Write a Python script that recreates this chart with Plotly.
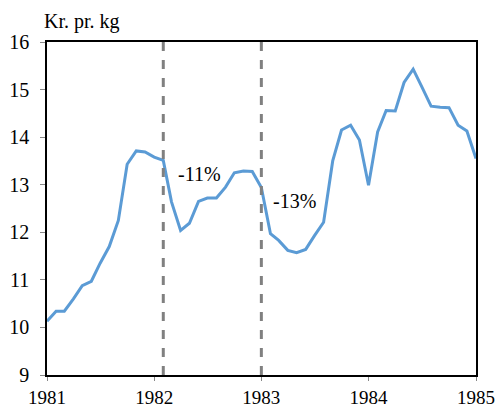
import plotly.graph_objects as go
import pandas as pd

months = pd.date_range("1981-01-01", "1985-01-01", freq="MS")
prices = [10.13, 10.34, 10.34, 10.6, 10.88, 10.97, 11.35, 11.7, 12.25, 13.43, 13.71, 13.69,
          13.58, 13.51, 12.64, 12.04, 12.19, 12.65, 12.72, 12.72, 12.95, 13.25, 13.29, 13.28,
          12.94, 11.97, 11.83, 11.62, 11.57, 11.64, 11.93, 12.21, 13.5, 14.15, 14.25, 13.94,
          12.99, 14.11, 14.56, 14.55, 15.15, 15.43, 15.05, 14.65, 14.63, 14.62, 14.25, 14.13,
          13.55]
marker_dates = ["1982-02-01", "1983-01-01"]
drop_labels = ["-11%", "-13%"]
drop_label_pos = [("1982-06-05", 13.23), ("1983-04-25", 12.65)]
tick_years = ["1981", "1982", "1983", "1984", "1985"]

FONT = "Liberation Serif, Times New Roman, serif"
FS = 20

fig = go.Figure()
fig.add_trace(go.Scatter(x=months, y=prices, mode="lines",
                         line=dict(color="#5B9BD5", width=3), showlegend=False,
                         hoverinfo="skip"))
for d in marker_dates:
    fig.add_shape(type="line", x0=d, x1=d, y0=9, y1=16, xref="x", yref="y",
                  line=dict(color="#808080", width=3, dash="dash"))
for lbl, (xd, yv) in zip(drop_labels, drop_label_pos):
    fig.add_annotation(x=xd, y=yv, text=lbl, showarrow=False,
                       font=dict(family=FONT, size=FS, color="black"))

fig.add_annotation(text="Kr. pr. kg", xref="paper", yref="paper", x=0, y=1.0,
                   xshift=-5, yshift=21, xanchor="left", yanchor="middle", showarrow=False,
                   font=dict(family=FONT, size=FS, color="black"))

fig.update_layout(
    width=497, height=408,
    margin=dict(l=47, r=21, t=42, b=33),
    paper_bgcolor="white", plot_bgcolor="white",
    font=dict(family=FONT, size=FS, color="black"),
    xaxis=dict(type="date", range=["1981-01-01", "1985-01-01"], automargin=False,
               tickvals=[f"{y}-01-01" for y in tick_years], ticktext=tick_years,
               showgrid=False, zeroline=False, showline=True, mirror=True,
               linecolor="black", linewidth=1.5, ticks="outside", ticklen=4,
               tickcolor="#888888", tickfont=dict(family=FONT, size=19)),
    yaxis=dict(range=[9, 16], dtick=1, showgrid=False, zeroline=False, automargin=False,
               showline=True, mirror=True, linecolor="black", linewidth=1.5,
               ticks="outside", ticklen=5, tickcolor="#888888", ticklabelstandoff=7,
               tickfont=dict(family=FONT, size=FS)),
)
fig.write_html("out.html", config={"displayModeBar": False},
               post_script="document.body.style.margin='0';document.body.style.overflow='hidden';")
